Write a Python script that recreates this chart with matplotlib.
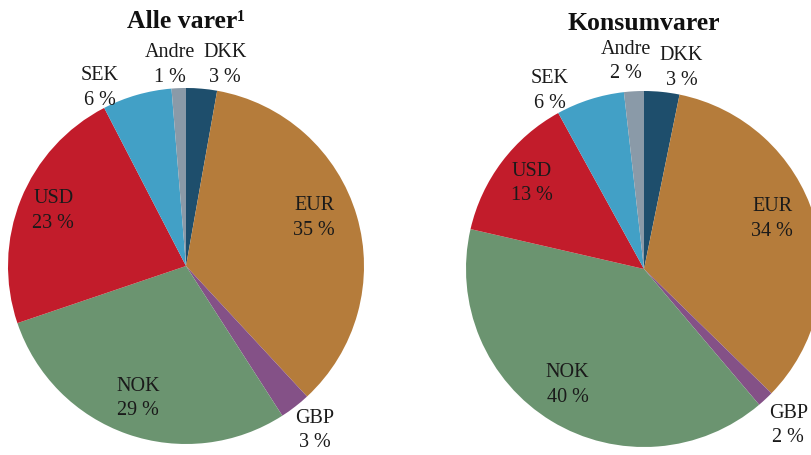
import matplotlib.pyplot as plt

# Valutafordeling, andel i prosent (lest av figuren)
navn = ["DKK", "EUR", "GBP", "NOK", "USD", "SEK", "Andre"]
alle_varer = [2.8, 35.3, 2.8, 28.9, 22.6, 6.3, 1.3]
konsumvarer = [3.2, 34.1, 1.5, 39.8, 13.4, 6.2, 1.8]

farger = ["#1e4e6c", "#b57c3b", "#845187", "#6b9470", "#c21c2b", "#42a0c6", "#8a9aa8"]

# Plassering av etikettene (relativt til sentrum, i radier)
pos_alle = [(0.22, 1.13), (-0.09, 1.13), (-0.485, 1.0), (-0.745, 0.31),
            (0.72, 0.27), (-0.27, -0.745), (0.725, -0.925)]
pos_konsum = [(0.21, 1.13), (-0.1, 1.165), (-0.53, 1.0), (-0.63, 0.48),
              (0.72, 0.28), (-0.43, -0.65), (0.81, -0.88)]
rekkefolge = ["DKK", "Andre", "SEK", "USD", "EUR", "NOK", "GBP"]

W, H = 811, 455
fig = plt.figure(figsize=(W / 100, H / 100), dpi=100)
plt.rcParams['font.family'] = ['Liberation Serif', 'DejaVu Serif']


def kake(cx, cy, r, verdier, tittel, posisjoner, tittel_y):
    ax = fig.add_axes([(cx - r) / W, (H - cy - r) / H, 2 * r / W, 2 * r / H])
    ax.pie(verdier, colors=farger, startangle=90, counterclock=False,
           radius=1, wedgeprops=dict(linewidth=0))
    ax.set_xlim(-1, 1)
    ax.set_ylim(-1, 1)
    ax.set_aspect('auto')
    ax.axis('off')
    for lbl, (px, py) in zip(rekkefolge, posisjoner):
        v = verdier[navn.index(lbl)]
        ax.text(px, py, f"{lbl}\n{round(v)} %", ha='center', va='center',
                fontsize=14.5, color='#1a1a1a', linespacing=1.4)
    fig.text(cx / W, 1 - tittel_y / H, tittel, ha='center', va='center',
             fontsize=18.5, fontweight='bold', color='#111111')


kake(186, 266, 178, alle_varer, "Alle varer\u00b9", pos_alle, 22)
kake(644, 269, 178, konsumvarer, "Konsumvarer", pos_konsum, 24)

fig.savefig("out.png", dpi=100)
